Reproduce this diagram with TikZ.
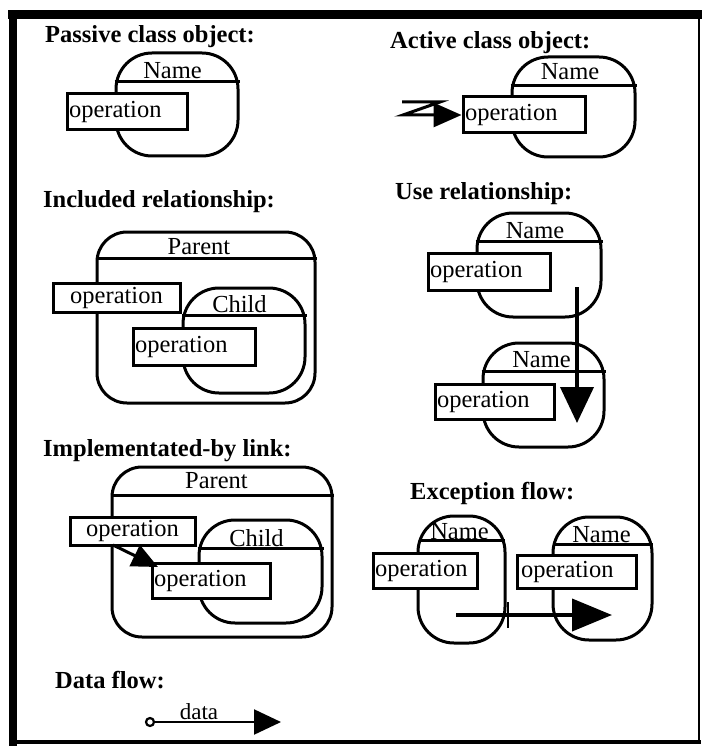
\documentclass[tikz,border=0pt]{standalone}
\usepackage{fontspec}
\setmainfont{Liberation Serif}
\usetikzlibrary{arrows.meta}
\tikzset{
  obj/.style={draw, line width=3pt, rounded corners=36pt, inner sep=0pt},
  par/.style={obj, rounded corners=30pt},
  dv/.style={line width=2.4pt},
  nm/.style={font=\fontsize{24.5}{26}\selectfont, inner sep=0pt},
  opl/.style={
    draw, fill=white, line width=3pt, inner xsep=2pt, inner ysep=0pt,
    align=left, font=\fontsize{24.5}{26}\selectfont
  },
  opc/.style={opl, align=center},
  hdr/.style={font=\bfseries\fontsize{24.5}{26}\selectfont, anchor=base west, inner sep=0pt},
  hd/.style 2 args={-{Triangle[length=#1,width=#2]}},
  frame/.style={line cap=rect}
}
\begin{document}
\begin{tikzpicture}[x=1pt,y=-1pt]
  \useasboundingbox (0,0) rectangle (701,746);
  % frame
  \draw[frame, line width=8pt] (12.5,15) -- (12.5,742);
  \draw[frame, line width=9pt] (12.5,15) -- (699,15);
  \draw[frame, line width=2pt] (699,15) -- (699,742);
  \draw[frame, line width=4pt] (12.5,742) -- (699,742);

  % headings
  \node[hdr] (hpas) at (45,43) {Passive class object:};
  \node[hdr] (hact) at (390,49) {Active class object:};
  \node[hdr] (hinc) at (43,207) {Included relationship:};
  \node[hdr] (huse) at (395,199) {Use relationship:};
  \node[hdr] (himp) at (43,456) {Implementated-by link:};
  \node[hdr] (hexc) at (410,499) {Exception flow:};
  \node[hdr] (hdat) at (55,688) {Data flow:};

  % passive class object
  \node[obj, minimum width=122pt, minimum height=103pt] (pas) at (177,104.5) {};
  \draw[dv] ([yshift=-30pt]pas.north west) -- ([yshift=-30pt]pas.north east);
  \node[nm] (pasn) at (172.5,70.5) {Name};
  \node[opl, text width=116pt, minimum height=36pt] (pop) at (127,112) {operation};

  % active class object
  \node[obj, minimum width=123pt, minimum height=100pt] (act) at (573.5,107) {};
  \draw[dv] ([yshift=-30pt]act.north west) -- ([yshift=-30pt]act.north east);
  \node[nm] (actn) at (570,71.5) {Name};
  \node[opl, text width=118pt, minimum height=36pt] (aop) at (524,115) {operation};
  \coordinate (zz) at (402,102);
  \draw[line width=3pt, hd={28pt}{24pt}] (zz) -- ++(38,0) -- ++(-37,13) -- (aop.west);

  % included relationship
  \node[par, minimum width=218pt, minimum height=171pt] (ipar) at (206,317.5) {};
  \draw[dv] ([yshift=-28pt]ipar.north west) -- ([yshift=-28pt]ipar.north east);
  \node[nm] (iparn) at (199,246.5) {Parent};
  \node[obj, minimum width=122pt, minimum height=105pt] (ichi) at (244,340.5) {};
  \draw[dv] ([yshift=-29pt]ichi.north west) -- ([yshift=-29pt]ichi.north east);
  \node[nm] (ichin) at (239.5,304) {Child};
  \node[opc, text width=123pt, minimum height=29pt] (iop1) at (116.5,297.5) {operation};
  \node[opl, text width=118pt, minimum height=37pt] (iop2) at (194,346.5) {operation};

  % use relationship
  \node[obj, minimum width=124pt, minimum height=104pt] (utop) at (539,265) {};
  \draw[dv] ([yshift=-30pt]utop.north west) -- ([yshift=-30pt]utop.north east);
  \node[nm] (utopn) at (535,230.5) {Name};
  \node[opl, text width=118pt, minimum height=37pt] (uop1) at (489,271.5) {operation};
  \node[obj, minimum width=121pt, minimum height=104pt] (ubot) at (543.5,395) {};
  \draw[dv] ([yshift=-30pt]ubot.north west) -- ([yshift=-30pt]ubot.north east);
  \node[nm] (ubotn) at (541.5,360) {Name};
  \node[opl, text width=115pt, minimum height=35pt] (uop2) at (494.5,401.5) {operation};
  \coordinate (us) at (577,287);
  \coordinate (ue) at (577,423);
  \draw[line width=4pt, hd={36pt}{33pt}] (us) -- (ue);

  % implementated-by link
  \node[par, minimum width=220pt, minimum height=170pt] (mpar) at (222,552) {};
  \draw[dv] ([yshift=-30pt]mpar.north west) -- ([yshift=-30pt]mpar.north east);
  \node[nm] (mparn) at (216.5,480.5) {Parent};
  \node[obj, minimum width=123pt, minimum height=103pt] (mchi) at (260.5,571.5) {};
  \draw[dv] ([yshift=-30pt]mchi.north west) -- ([yshift=-30pt]mchi.north east);
  \node[nm] (mchin) at (256.5,538.5) {Child};
  \node[opc, text width=121pt, minimum height=28pt] (mop1) at (132.5,531) {operation};
  \node[opl, text width=114pt, minimum height=35pt] (mop2) at (211,580.5) {operation};
  \coordinate (ms) at (113,545);
  \coordinate (me) at (158,567);
  \draw[line width=3pt, hd={26pt}{23pt}] (ms) -- (me);

  % exception flow
  \node[obj, minimum width=87pt, minimum height=127pt] (eleft) at (461.5,579.5) {};
  \draw[dv] ([xshift=2pt,yshift=-26pt]eleft.north west) -- ([xshift=-2pt,yshift=-26pt]eleft.north east);
  \node[nm] (eleftn) at (459.5,531.5) {Name};
  \node[obj, minimum width=99pt, minimum height=123pt] (eright) at (602.5,578.5) {};
  \draw[dv] ([xshift=1pt,yshift=-29pt]eright.north west) -- ([xshift=-1pt,yshift=-29pt]eright.north east);
  \node[nm] (erightn) at (601.5,535) {Name};
  \node[opl, text width=100pt, minimum height=35pt] (eop1) at (425,570.5) {operation};
  \node[opl, inner xsep=4pt, text width=111pt, minimum height=33pt] (eop2) at (576.5,571.5) {operation};
  \coordinate (es) at (456,615);
  \coordinate (ee) at (612,615);
  \coordinate (tk) at (508,615);
  \draw[line width=4pt, hd={40pt}{32pt}] (es) -- (ee);
  \draw[line width=2pt] ([yshift=13pt]tk) -- ([yshift=-13pt]tk);

  % data flow
  \node[circle, draw, line width=2.2pt, fill=white, minimum size=8pt, inner sep=0pt] (dsrc) at (150,722) {};
  \coordinate (dsnk) at (281,722);
  \draw[line width=2.2pt, hd={27pt}{25pt}] (dsrc) -- (dsnk);
  \node[nm, font=\fontsize{23}{25}\selectfont, anchor=base] (dlab) at (199,719) {data};
\end{tikzpicture}
\end{document}
